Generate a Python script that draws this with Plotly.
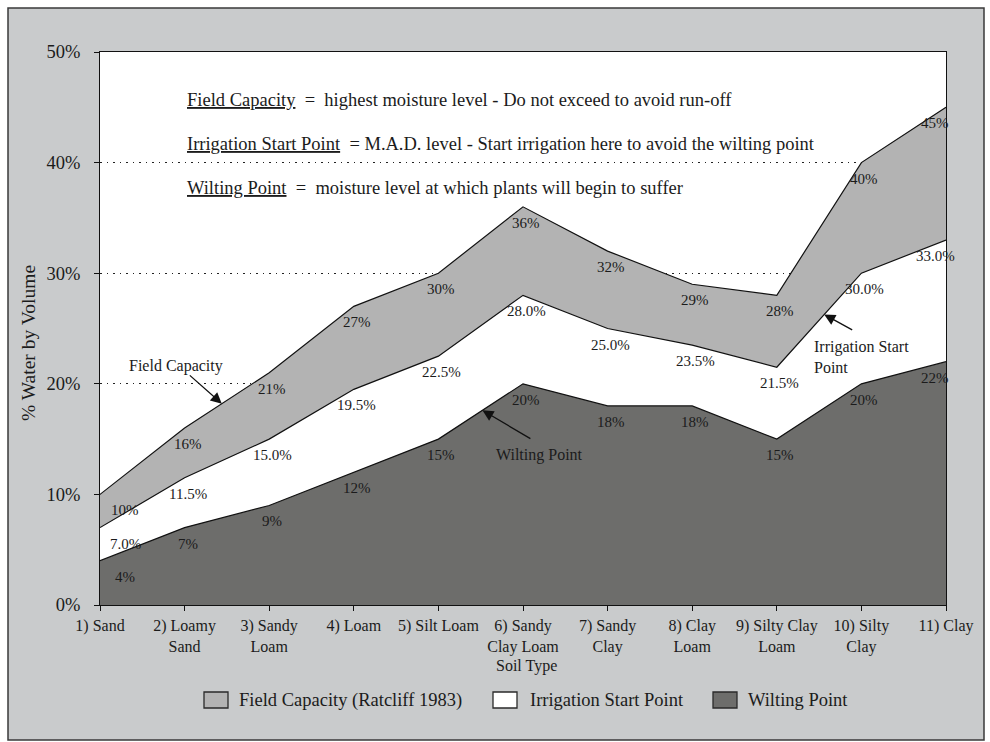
import numpy as np
import plotly.graph_objects as go

# ---- data -------------------------------------------------------------
soil_types = [
    "1) Sand", "2) Loamy<br>Sand", "3) Sandy<br>Loam", "4) Loam", "5) Silt Loam",
    "6) Sandy<br>Clay Loam", "7) Sandy<br>Clay", "8) Clay<br>Loam",
    "9) Silty Clay<br>Loam", "10) Silty<br>Clay", "11) Clay",
]
field_capacity = [10, 16, 21, 27, 30, 36, 32, 29, 28, 40, 45]
irrigation_start = [7.0, 11.5, 15.0, 19.5, 22.5, 28.0, 25.0, 23.5, 21.5, 30.0, 33.0]
wilting_point = [4, 7, 9, 12, 15, 20, 18, 18, 15, 20, 22]
y_ticks = [0, 10, 20, 30, 40, 50]

# ---- page geometry (pixels) -------------------------------------------
W_PX, H_PX = 990, 742
L, R, T, B = 100, 946, 52, 605
PW, PH = R - L, B - T


def px_x(x):
    return (x - L) / PW


def px_y(y):
    return (B - y) / PH


FONT = "Liberation Serif"
INK = "#1b1b1b"
BG_GRAY = "#c9cbcc"
FC_GRAY = "#b3b3b3"
WP_GRAY = "#6d6d6b"

idx = list(range(len(soil_types)))

series = [
    ("Field Capacity (Ratcliff 1983)", field_capacity, FC_GRAY, lambda v: f"{v:.0f}%"),
    ("Irrigation Start Point", irrigation_start, "#ffffff", lambda v: f"{v:.1f}%"),
    ("Wilting Point", wilting_point, WP_GRAY, lambda v: f"{v:.0f}%"),
]

fig = go.Figure()
annotations = []

for name, vals, color, fmt in series:
    fig.add_trace(go.Scatter(
        x=idx, y=vals, name=name, mode="lines",
        fill="tozeroy", fillcolor=color,
        line=dict(color="#111111", width=1.2),
        showlegend=False, hoverinfo="skip",
    ))
    last = len(vals) - 1
    for i, v in enumerate(vals):
        xshift = 25 if i == 0 else (-11 if i == last else 3)
        annotations.append(dict(
            x=i, y=v, text=fmt(v), showarrow=False,
            xshift=xshift, yshift=-16,
            font=dict(family=FONT, size=15, color=INK),
        ))

# ---- call-out arrows onto the curves ----------------------------------
callouts = [
    # (text, text x, text y, align, head x, series values, tail dx, tail dy)
    ("Field Capacity", 0.90, 21.6, "center", 1.44, field_capacity, -35, -31),
    ("Wilting Point", 5.20, 13.55, "center", 4.52, wilting_point, 51, 30),
    ("Irrigation Start<br>Point", 8.42, 22.4, "left", 8.56, irrigation_start, 31, 17),
]
for text, tx, ty, align, hx, vals, dx, dy in callouts:
    annotations.append(dict(
        x=tx, y=ty, text=text, showarrow=False,
        xanchor="left" if align == "left" else "center", align=align,
        font=dict(family=FONT, size=16, color=INK),
    ))
    annotations.append(dict(
        x=hx, y=float(np.interp(hx, idx, vals)), text=" ",
        showarrow=True, ax=dx, ay=dy,
        arrowhead=2, arrowsize=1.7, arrowwidth=1.3, arrowcolor="#111111",
        standoff=0,
    ))

# ---- definitions block ------------------------------------------------
sp = "&nbsp;"
definitions = [
    (100, f"<u>Field Capacity</u>{sp*2}={sp*2}highest moisture level - Do not exceed to avoid run-off"),
    (144, f"<u>Irrigation Start Point</u>{sp*2}= M.A.D. level - Start irrigation here to avoid the wilting point"),
    (188, f"<u>Wilting Point</u>{sp*2}={sp*2}moisture level at which plants will begin to suffer"),
]
for ypx, text in definitions:
    annotations.append(dict(
        xref="paper", yref="paper", x=px_x(185), y=px_y(ypx),
        xanchor="left", yanchor="middle", text=text, showarrow=False,
        font=dict(family=FONT, size=18.5, color=INK),
    ))

# ---- axis titles ------------------------------------------------------
annotations.append(dict(
    xref="paper", yref="paper", x=px_x(28), y=px_y(343),
    xanchor="center", yanchor="middle",
    text="% Water by Volume", textangle=-90, showarrow=False,
    font=dict(family=FONT, size=19.5, color=INK),
))
annotations.append(dict(
    x=5, xref="x", xshift=3, yref="paper", y=px_y(666),
    xanchor="center", yanchor="middle",
    text="Soil Type", showarrow=False,
    font=dict(family=FONT, size=16, color=INK),
))

# ---- panel, plotting area and boxed legend ----------------------------
shapes = [
    dict(type="rect", xref="paper", yref="paper", layer="below",
         x0=px_x(8), x1=px_x(984), y0=px_y(740), y1=px_y(8),
         fillcolor=BG_GRAY, line=dict(color="#3a3a3a", width=1.5)),
    dict(type="rect", xref="paper", yref="paper", layer="below",
         x0=0, x1=1, y0=0, y1=1, fillcolor="#ffffff", line=dict(width=0)),
]
legend_items = [(204, 237), (493, 528), (713, 746)]
for (sx, tx), (name, _, color, _) in zip(legend_items, series):
    shapes.append(dict(
        type="rect", xref="paper", yref="paper",
        x0=px_x(sx), x1=px_x(sx + 24), y0=px_y(708), y1=px_y(692),
        fillcolor=color, line=dict(color="#2a2a2a", width=1.3),
    ))
    annotations.append(dict(
        xref="paper", yref="paper", x=px_x(tx), y=px_y(700),
        xanchor="left", yanchor="middle", text=name, showarrow=False,
        font=dict(family=FONT, size=18.5, color=INK),
    ))

fig.update_layout(
    width=W_PX, height=H_PX,
    margin=dict(l=L, r=W_PX - R, t=T, b=H_PX - B, pad=0),
    paper_bgcolor="#ffffff", plot_bgcolor="#ffffff",
    font=dict(family=FONT, color=INK),
    shapes=shapes, annotations=annotations,
    showlegend=False,
)
fig.update_xaxes(
    range=[0, len(soil_types) - 1], tickmode="array",
    tickvals=idx, ticktext=soil_types,
    ticks="outside", ticklen=5, tickcolor="#111111",
    showline=True, linecolor="#111111", linewidth=1, mirror=True,
    showgrid=False, zeroline=False,
    tickfont=dict(family=FONT, size=16, color=INK),
    ticklabelstandoff=1, fixedrange=True,
)
fig.update_yaxes(
    range=[0, 50], tickmode="array", tickvals=y_ticks,
    ticktext=[f"{v}%" for v in y_ticks],
    ticks="outside", ticklen=5, tickcolor="#111111",
    showline=True, linecolor="#111111", linewidth=1, mirror=True,
    showgrid=True, gridcolor="#222222", gridwidth=1, griddash="1.5px,5px",
    zeroline=False,
    tickfont=dict(family=FONT, size=18.5, color=INK),
    ticklabelstandoff=10, fixedrange=True,
)

fig.write_html("out.html")
